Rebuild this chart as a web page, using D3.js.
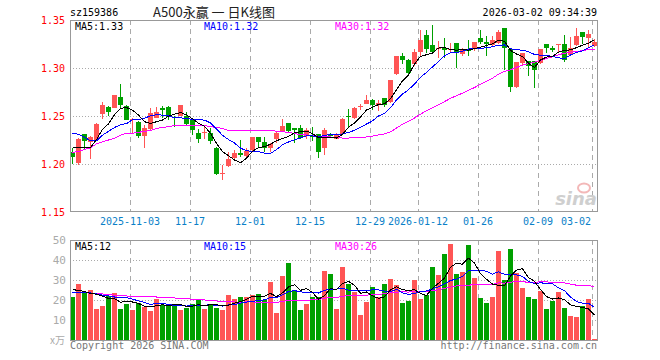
<!DOCTYPE html>
<html>
<head>
<meta charset="utf-8">
<script src="https://cdn.jsdelivr.net/npm/d3@7"></script>
<style>
  body { margin: 0; background: #fff; }
  svg text { font-family: "DejaVu Sans Mono", "Liberation Mono", monospace; }
</style>
</head>
<body>
<script>
// trading days shown in the chart
const dates = [
  "2025-10-20","2025-10-21","2025-10-22","2025-10-23","2025-10-24","2025-10-27","2025-10-28","2025-10-29","2025-10-30","2025-10-31",
  "2025-11-03","2025-11-04","2025-11-05","2025-11-06","2025-11-07","2025-11-10","2025-11-11","2025-11-12","2025-11-13","2025-11-14",
  "2025-11-17","2025-11-18","2025-11-19","2025-11-20","2025-11-21","2025-11-24","2025-11-25","2025-11-26","2025-11-27","2025-11-28",
  "2025-12-01","2025-12-02","2025-12-03","2025-12-04","2025-12-05","2025-12-08","2025-12-09","2025-12-10","2025-12-11","2025-12-12",
  "2025-12-15","2025-12-16","2025-12-17","2025-12-18","2025-12-19","2025-12-22","2025-12-23","2025-12-24","2025-12-25","2025-12-26",
  "2025-12-29","2025-12-30","2025-12-31","2026-01-05","2026-01-06","2026-01-07","2026-01-08","2026-01-09",
  "2026-01-12","2026-01-13","2026-01-14","2026-01-15","2026-01-16","2026-01-19","2026-01-20","2026-01-21","2026-01-22","2026-01-23",
  "2026-01-26","2026-01-27","2026-01-28","2026-01-29","2026-01-30","2026-02-02","2026-02-03","2026-02-04","2026-02-05","2026-02-06",
  "2026-02-09","2026-02-10","2026-02-11","2026-02-12","2026-02-13","2026-02-24","2026-02-25","2026-02-26","2026-02-27","2026-03-02"
];

const open = [
  1.213,1.201,1.231,1.223,1.225,1.252,1.259,1.258,1.270,1.260,
  1.246,1.244,1.229,1.236,1.248,1.258,1.259,1.249,1.250,1.250,
  1.246,1.232,1.232,1.232,1.217,1.190,1.198,1.206,1.211,1.208,
  1.215,1.228,1.223,1.217,1.226,1.234,1.243,1.237,1.238,1.229,
  1.229,1.231,1.217,1.230,1.226,1.231,1.250,1.248,1.259,1.263,
  1.267,1.261,1.269,1.265,1.294,1.312,1.308,1.304,1.317,1.334,
  1.324,1.320,1.321,1.319,1.326,1.315,1.320,1.320,1.331,1.327,
  1.324,1.326,1.342,1.320,1.280,1.305,1.307,1.307,1.305,1.325,
  1.321,1.324,1.325,1.314,1.324,1.337,1.331,1.323
];
const high = [
  1.217,1.227,1.231,1.229,1.243,1.265,1.260,1.272,1.283,1.261,
  1.248,1.245,1.241,1.258,1.259,1.260,1.260,1.250,1.261,1.254,
  1.246,1.236,1.239,1.238,1.218,1.199,1.212,1.215,1.225,1.217,
  1.228,1.228,1.228,1.222,1.234,1.247,1.243,1.238,1.241,1.238,
  1.239,1.231,1.238,1.232,1.232,1.248,1.257,1.259,1.262,1.272,
  1.268,1.267,1.269,1.288,1.312,1.316,1.309,1.320,1.340,1.340,
  1.345,1.328,1.331,1.326,1.326,1.321,1.329,1.327,1.340,1.333,
  1.333,1.340,1.342,1.320,1.306,1.316,1.307,1.307,1.320,1.325,
  1.323,1.325,1.334,1.332,1.342,1.337,1.340,1.330
];
const low = [
  1.200,1.199,1.215,1.205,1.224,1.247,1.250,1.258,1.258,1.246,
  1.231,1.227,1.217,1.235,1.248,1.248,1.246,1.239,1.250,1.240,
  1.230,1.222,1.226,1.221,1.189,1.183,1.197,1.205,1.207,1.205,
  1.214,1.217,1.212,1.212,1.222,1.233,1.233,1.222,1.226,1.226,
  1.224,1.206,1.209,1.227,1.226,1.230,1.239,1.247,1.256,1.262,
  1.256,1.255,1.259,1.264,1.293,1.304,1.293,1.302,1.313,1.316,
  1.316,1.310,1.310,1.316,1.300,1.312,1.312,1.318,1.325,1.312,
  1.323,1.325,1.298,1.275,1.279,1.302,1.292,1.279,1.304,1.316,
  1.317,1.316,1.306,1.312,1.323,1.325,1.322,1.322
];
const close = [
  1.207,1.226,1.224,1.228,1.242,1.261,1.254,1.272,1.261,1.246,
  1.247,1.229,1.237,1.253,1.254,1.256,1.249,1.248,1.261,1.242,
  1.235,1.226,1.233,1.224,1.190,1.191,1.205,1.211,1.209,1.214,
  1.228,1.223,1.217,1.221,1.232,1.240,1.234,1.235,1.227,1.235,
  1.228,1.212,1.235,1.229,1.231,1.247,1.249,1.258,1.260,1.267,
  1.261,1.264,1.261,1.288,1.312,1.308,1.295,1.317,1.329,1.320,
  1.317,1.321,1.319,1.320,1.316,1.320,1.318,1.327,1.327,1.325,
  1.329,1.337,1.321,1.280,1.306,1.316,1.302,1.298,1.320,1.321,
  1.319,1.325,1.308,1.321,1.333,1.332,1.335,1.327
];

// volume, in units of 10,000
const volume = [
  21.7,28.2,24.0,24.8,15.7,17.2,22.2,23.7,15.7,18.2,
  15.2,18.5,16.5,14.7,20.7,17.5,17.2,18.0,15.2,16.2,
  18.0,20.7,15.7,17.7,15.9,15.2,22.7,20.4,21.7,21.7,
  22.4,23.2,19.9,29.2,13.7,31.8,38.3,25.2,15.2,18.2,
  21.7,21.7,34.3,32.8,15.7,36.3,27.8,24.2,12.7,19.2,
  26.3,21.7,27.8,30.3,27.3,18.7,19.7,29.8,20.7,22.7,
  36.3,32.3,42.8,47.8,32.8,33.8,47.3,30.8,21.2,18.7,
  21.7,44.3,29.8,45.3,33.3,25.8,21.7,20.7,24.7,15.7,
  19.7,24.2,16.2,12.2,11.7,17.2,20.7,0.7
];

const ma5Head = [1.217,1.217,1.217,1.217];
const ma10Head = [1.232,1.231,1.228,1.224,1.224,1.230,1.234,1.238,1.241];
const ma30Head = [1.212,1.213,1.215,1.217,1.221,1.223,1.225,1.227,1.230,1.232,
  1.232,1.233,1.234,1.235,1.237,1.238,1.239,1.240,1.240,1.240,
  1.240,1.240,1.240,1.239,1.238,1.237,1.235,1.235,1.235];
const volMa5Head = [25.2,24.8,24.2,23.3];
const volMa10Head = [23.7,23.8,23.8,23.5,23.0,22.4,22.0,21.5,21.0];
const volMa30Head = [24.0,23.8,23.6,23.4,23.2,23.0,22.7,22.4,22.2,22.0,
  21.8,21.7,21.7,21.6,21.5,21.5,21.3,21.0,20.8,20.6,
  20.4,20.2,20.0,19.8,19.5,19.3,19.2,19.0,18.9];

const priceTicks = [1.15, 1.20, 1.25, 1.30, 1.35];
const volTicks = [10, 20, 30, 40, 50];
const xTickDates = ["2025-11-03","2025-11-17","2025-12-01","2025-12-15","2025-12-29","2026-01-12","2026-01-26","2026-02-09","2026-03-02"];
const xTickLabels = ["2025-11-03","11-17","12-01","12-15","12-29","2026-01-12","01-26","02-09","03-02"];

const maLabels = ["MA5:1.33", "MA10:1.32", "MA30:1.32"];
const volMaLabels = ["MA5:12", "MA10:15", "MA30:26"];

const UP = "#ff5555", DOWN = "#00a000";
const MA_COLORS = ["#000000", "#0000ff", "#ff00ff"];

function movingAvg(values, n, head) {
  return values.map((v, i) => {
    if (i < n - 1) return head[i];
    return d3.mean(values.slice(i - n + 1, i + 1));
  });
}

const svg = d3.select("body").append("svg")
  .attr("width", 660)
  .attr("height", 360)
  .attr("shape-rendering", "crispEdges");

// scales
const x = d3.scaleBand().domain(dates).range([70, 598]).paddingInner(0);
const cx = d => x(d) + 2.5;
const y = d3.scaleLinear().domain([1.15, 1.35]).range([212, 20]);
const yv = d3.scaleLinear().domain([0, 50]).range([340, 240]);

const plotL = 70, plotR = 597;

// header
svg.append("text").attr("x", 70).attr("y", 16).attr("font-size", 10).text("sz159386");
svg.append("text").attr("x", 214).attr("y", 17).attr("text-anchor", "middle")
  .attr("font-size", 13).style("font-family", "'Noto Sans CJK SC', sans-serif")
  .attr("fill", "#222").text("A500永赢 一 日K线图");
svg.append("text").attr("x", 597).attr("y", 16).attr("text-anchor", "end")
  .attr("font-size", 10).text("2026-03-02 09:34:39");

// horizontal dotted grid
svg.append("g").selectAll("line")
  .data(priceTicks.slice(1, -1))
  .enter().append("line")
  .attr("x1", plotL).attr("x2", plotR)
  .attr("y1", d => Math.round(y(d)) + 0.5).attr("y2", d => Math.round(y(d)) + 0.5)
  .attr("stroke", "#aaa").attr("stroke-dasharray", "1,2");
svg.append("g").selectAll("line")
  .data(volTicks.slice(0, -1))
  .enter().append("line")
  .attr("x1", plotL).attr("x2", plotR)
  .attr("y1", d => yv(d) + 0.5).attr("y2", d => yv(d) + 0.5)
  .attr("stroke", "#aaa").attr("stroke-dasharray", "1,2");

// vertical dashed grid
[[20, 212], [240, 340]].forEach(([t, b]) => {
  svg.append("g").selectAll("line")
    .data(xTickDates)
    .enter().append("line")
    .attr("x1", d => x(d) + 0.5).attr("x2", d => x(d) + 0.5)
    .attr("y1", t).attr("y2", b)
    .attr("stroke", "#aaa").attr("stroke-dasharray", "5,4");
});

// sina watermark
const wm = svg.append("g");
wm.append("ellipse").attr("cx", 584).attr("cy", 188).attr("rx", 6).attr("ry", 4.5)
  .attr("fill", "none").attr("stroke", "#f3b8b8").attr("stroke-width", 2)
  .attr("shape-rendering", "auto");
wm.append("text").attr("x", 597).attr("y", 205).attr("text-anchor", "end")
  .attr("font-size", 18).attr("font-weight", "bold").attr("font-style", "italic")
  .style("font-family", "'DejaVu Sans', sans-serif")
  .attr("fill", "#cfcfcf").text("sina");

// candles
const candles = dates.map((d, i) => ({
  date: d, o: open[i], h: high[i], l: low[i], c: close[i], v: volume[i]
}));
const colorOf = d => d.c >= d.o ? UP : DOWN;

const cg = svg.append("g");
cg.selectAll("line.wick")
  .data(candles)
  .enter().append("line")
  .attr("class", "wick")
  .attr("x1", d => cx(d.date)).attr("x2", d => cx(d.date))
  .attr("y1", d => y(d.h)).attr("y2", d => y(d.l))
  .attr("stroke", colorOf);
cg.selectAll("rect")
  .data(candles)
  .enter().append("rect")
  .attr("x", d => x(d.date))
  .attr("width", x.bandwidth() - 1)
  .attr("y", d => y(Math.max(d.o, d.c)))
  .attr("height", d => Math.max(1, Math.abs(y(d.o) - y(d.c))))
  .attr("fill", colorOf);

// volume bars
svg.append("g").selectAll("rect")
  .data(candles)
  .enter().append("rect")
  .attr("x", d => x(d.date))
  .attr("width", x.bandwidth() - 1)
  .attr("y", d => yv(d.v))
  .attr("height", d => Math.max(1, 340 - yv(d.v)))
  .attr("fill", colorOf);

// moving averages
const priceMAs = [movingAvg(close, 5, ma5Head), movingAvg(close, 10, ma10Head), movingAvg(close, 30, ma30Head)];
const volMAs = [movingAvg(volume, 5, volMa5Head), movingAvg(volume, 10, volMa10Head), movingAvg(volume, 30, volMa30Head)];

const priceLine = d3.line().x((v, i) => cx(dates[i])).y(v => y(v));
const volLine = d3.line().x((v, i) => cx(dates[i])).y(v => yv(v));

[2, 1, 0].forEach(k => {
  svg.append("path").attr("d", priceLine(priceMAs[k]))
    .attr("fill", "none").attr("stroke", MA_COLORS[k]).attr("stroke-width", 1);
  svg.append("path").attr("d", volLine(volMAs[k]))
    .attr("fill", "none").attr("stroke", MA_COLORS[k]).attr("stroke-width", 1);
});

// frames
svg.append("rect").attr("x", 70.5).attr("y", 20.5).attr("width", 527).attr("height", 191)
  .attr("fill", "none").attr("stroke", "#999");
svg.append("rect").attr("x", 70.5).attr("y", 240.5).attr("width", 527).attr("height", 100)
  .attr("fill", "none").attr("stroke", "#999");

// MA labels
const maX = [75, 204, 335];
maLabels.forEach((t, k) => {
  svg.append("text").attr("x", maX[k]).attr("y", 30).attr("font-size", 10)
    .attr("fill", MA_COLORS[k]).text(t);
});
volMaLabels.forEach((t, k) => {
  svg.append("text").attr("x", maX[k]).attr("y", 250).attr("font-size", 10)
    .attr("fill", MA_COLORS[k]).text(t);
});

// price axis labels
svg.append("g").selectAll("text")
  .data(priceTicks)
  .enter().append("text")
  .attr("x", 65).attr("y", d => y(d) + 4)
  .attr("text-anchor", "end").attr("font-size", 10).attr("fill", "#ff0000")
  .text(d => d.toFixed(2));

// volume axis labels
svg.append("g").selectAll("text")
  .data(volTicks)
  .enter().append("text")
  .attr("x", 66).attr("y", d => yv(d) + 4)
  .attr("text-anchor", "end").attr("font-size", 11).attr("fill", "#aaa")
  .text(d => d);
svg.append("text").attr("x", 50).attr("y", 344).attr("font-size", 10)
  .style("font-family", "'Noto Sans CJK SC', sans-serif")
  .attr("fill", "#aaa").text("x万");

// date labels
svg.append("g").selectAll("text")
  .data(xTickDates)
  .enter().append("text")
  .attr("x", (d, i) => i === xTickDates.length - 1 ? 591 : x(d))
  .attr("y", 225)
  .attr("text-anchor", (d, i) => i === xTickDates.length - 1 ? "end" : "middle")
  .attr("font-size", 10).attr("fill", "#0a7fc8")
  .text((d, i) => xTickLabels[i]);

// footer
svg.append("text").attr("x", 70).attr("y", 349).attr("font-size", 10)
  .attr("fill", "#777").text("Copyright 2026 SINA.COM");
svg.append("text").attr("x", 597).attr("y", 349).attr("text-anchor", "end")
  .attr("font-size", 10).attr("fill", "#777").text("http://finance.sina.com.cn");
</script>
</body>
</html>
